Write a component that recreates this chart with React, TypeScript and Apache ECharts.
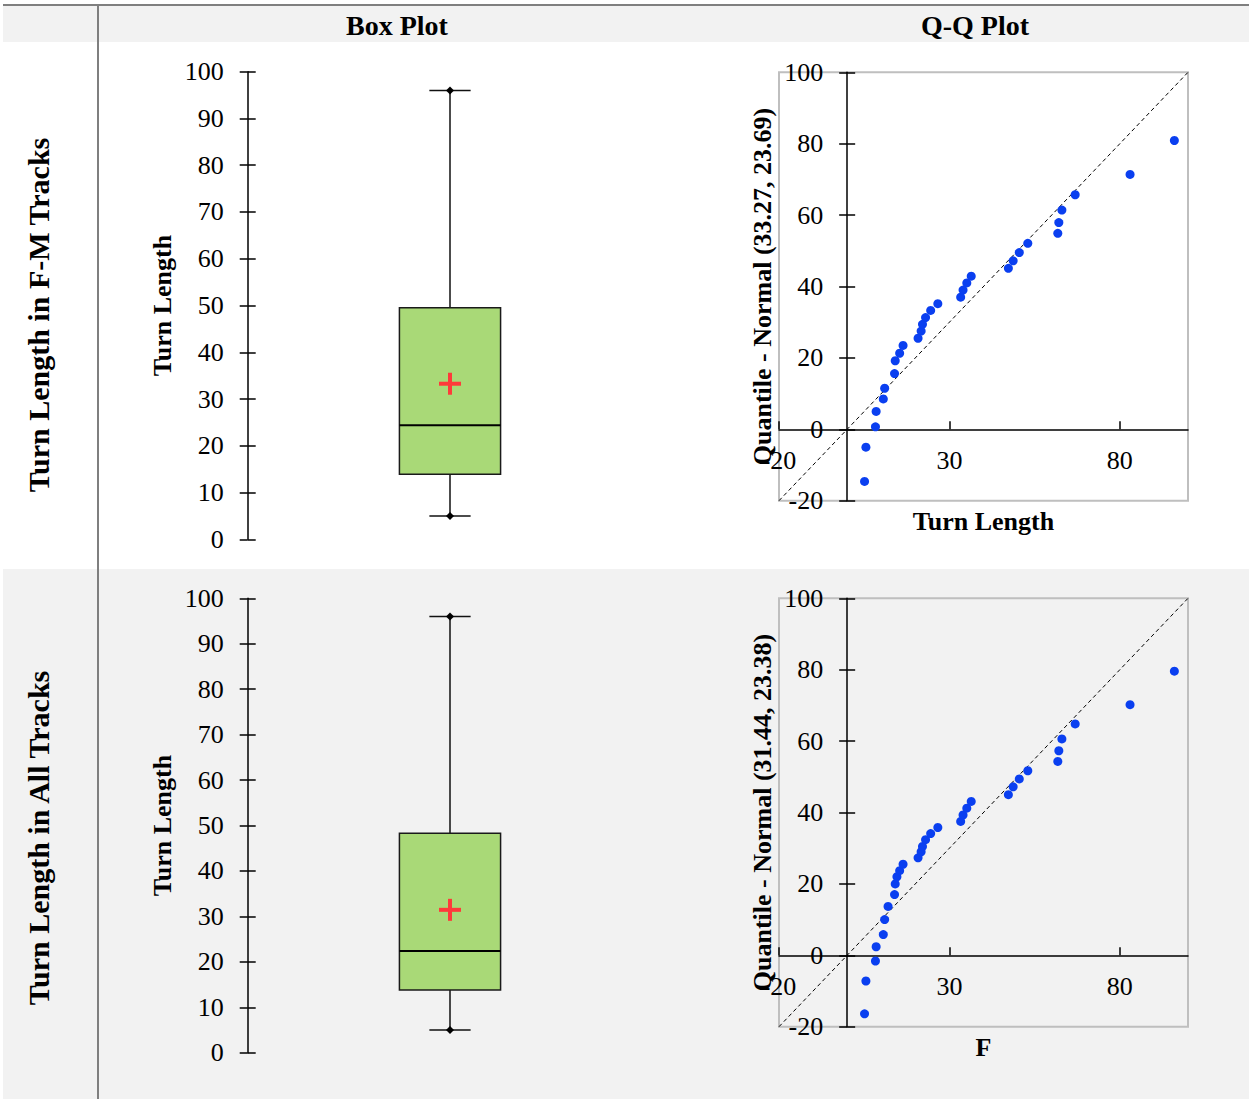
import React, { useEffect, useRef } from "react";
import * as echarts from "echarts";

const FONT = "'Liberation Serif', 'Times New Roman', Times, serif";

const columnHeaders = ["Box Plot", "Q-Q Plot"];
const rowLabels = ["Turn Length in F-M Tracks", "Turn Length in All Tracks"];
const boxYName = "Turn Length";
const qqXNames = ["Turn Length", "F"];

// box statistics: [min, q1, median, q3, max]
const boxFM = [5.0, 13.9, 24.4, 49.5, 96.0];
const boxAll = [5.0, 13.8, 22.4, 48.3, 96.0];
const meanFM = 33.27;
const meanAll = 31.44;
const sdFM = 23.69;
const sdAll = 23.38;

const boxYTicks = [0, 10, 20, 30, 40, 50, 60, 70, 80, 90, 100];
const qqXTicks = [-20, 30, 80];
const qqYTicks = [-20, 0, 20, 40, 60, 80, 100];
const qqRange = [-20, 100];

const qqFMx = [5.1, 5.5, 8.3, 8.5, 10.6, 11.0, 13.9, 14.1, 15.4, 16.4, 20.8, 21.7, 22.1, 23.0, 24.5, 26.6, 33.3, 34.0, 35.1, 36.4, 47.3, 48.7, 50.5, 53.0, 61.8, 62.1, 63.0, 66.9, 83.0, 96.0];
const qqFMy = [-14.6, -5.0, 0.7, 5.0, 8.5, 11.5, 15.6, 19.2, 21.3, 23.5, 25.5, 27.5, 29.4, 31.3, 33.3, 35.2, 37.0, 39.0, 41.0, 42.9, 45.1, 47.2, 49.5, 52.1, 54.9, 57.9, 61.4, 65.7, 71.4, 80.9];

const qqAllx = [5.1, 5.5, 8.3, 8.5, 10.6, 11.0, 12.0, 13.9, 14.1, 14.6, 15.4, 16.4, 20.8, 21.7, 22.1, 23.0, 24.5, 26.6, 33.3, 34.0, 35.1, 36.4, 47.3, 48.7, 50.5, 53.0, 61.8, 62.1, 63.0, 66.9, 83.0, 96.0];
const qqAlly = [-16.4, -7.2, -1.6, 2.4, 5.8, 10.0, 13.7, 17.0, 20.0, 22.0, 23.7, 25.5, 27.3, 29.0, 30.5, 32.4, 34.1, 35.8, 37.5, 39.3, 41.2, 43.1, 45.0, 47.2, 49.4, 51.7, 54.3, 57.3, 60.6, 64.8, 70.2, 79.6];

const BLUE = "#0a3ff0";
const GREEN = "#a9d977";
const RED = "#ff3a3a";
const GRAY_BG = "#f2f2f2";
const RULE = "#7f7f7f";

const QQ_W = 409;
const QQ_H = 428.4;
// distance of the zero value from the left / bottom edges of the Q-Q grids
const zeroFrac = (0 - qqRange[0]) / (qqRange[1] - qqRange[0]);

function renderBox(params: any, api: any) {
  const x = api.value(0);
  const pMin = api.coord([x, api.value(1)]);
  const pQ1 = api.coord([x, api.value(2)]);
  const pMed = api.coord([x, api.value(3)]);
  const pQ3 = api.coord([x, api.value(4)]);
  const pMax = api.coord([x, api.value(5)]);
  const pMean = api.coord([x, api.value(6)]);
  const cx = pMed[0];
  const band = api.size([1, 0])[0];
  const bw = band * 0.25;
  const cw = band * 0.102;
  const stroke = { stroke: "#111", lineWidth: 1.5, fill: null };
  const d = 4;
  const diamond = (y: number) => ({
    type: "polygon",
    shape: { points: [[cx, y - d], [cx + d, y], [cx, y + d], [cx - d, y]] },
    style: { fill: "#000" },
  });
  const c = 11;
  return {
    type: "group",
    children: [
      { type: "line", shape: { x1: cx, y1: pQ3[1], x2: cx, y2: pMax[1] }, style: stroke },
      { type: "line", shape: { x1: cx, y1: pQ1[1], x2: cx, y2: pMin[1] }, style: stroke },
      { type: "line", shape: { x1: cx - cw / 2, y1: pMax[1], x2: cx + cw / 2, y2: pMax[1] }, style: stroke },
      { type: "line", shape: { x1: cx - cw / 2, y1: pMin[1], x2: cx + cw / 2, y2: pMin[1] }, style: stroke },
      {
        type: "rect",
        shape: { x: cx - bw / 2, y: pQ3[1], width: bw, height: pQ1[1] - pQ3[1] },
        style: { fill: GREEN, stroke: "#1a1a1a", lineWidth: 1.5 },
      },
      { type: "line", shape: { x1: cx - bw / 2, y1: pMed[1], x2: cx + bw / 2, y2: pMed[1] }, style: { stroke: "#000", lineWidth: 2 } },
      diamond(pMax[1]),
      diamond(pMin[1]),
      { type: "line", shape: { x1: cx - c, y1: pMean[1], x2: cx + c, y2: pMean[1] }, style: { stroke: RED, lineWidth: 4 } },
      { type: "line", shape: { x1: cx, y1: pMean[1] - c, x2: cx, y2: pMean[1] + c }, style: { stroke: RED, lineWidth: 4 } },
    ],
  };
}

const labelStyle = { color: "#000", fontFamily: FONT, fontSize: 26 };
const nameStyle = { color: "#000", fontFamily: FONT, fontSize: 26, fontWeight: "bold" as const };

function boxYAxis(gridIndex: number, inner: boolean) {
  return {
    gridIndex,
    type: "value",
    position: "left",
    min: boxYTicks[0],
    max: boxYTicks[boxYTicks.length - 1],
    name: inner ? "" : boxYName,
    nameLocation: "middle",
    nameGap: 72,
    nameTextStyle: nameStyle,
    axisLine: { show: !inner, lineStyle: { color: "#000", width: 1.5 } },
    axisTick: { show: true, inside: inner, length: 8, customValues: boxYTicks, lineStyle: { color: "#000", width: 1.5 } },
    axisLabel: { show: !inner, customValues: boxYTicks, margin: 24, ...labelStyle },
    splitLine: { show: false },
  };
}

function qqYAxis(gridIndex: number, inner: boolean, sd: number, mean: number) {
  return {
    gridIndex,
    type: "value",
    position: "left",
    offset: -QQ_W * zeroFrac,
    min: qqRange[0],
    max: qqRange[1],
    name: inner ? "" : `Quantile - Normal (${mean.toFixed(2)}, ${sd.toFixed(2)})`,
    nameLocation: "middle",
    nameGap: 72,
    nameTextStyle: nameStyle,
    axisLine: { show: !inner, onZero: false, lineStyle: { color: "#000", width: 1.5 } },
    axisTick: { show: true, inside: inner, length: 8, customValues: qqYTicks, lineStyle: { color: "#000", width: 1.5 } },
    axisLabel: { show: !inner, customValues: qqYTicks, margin: 24, ...labelStyle },
    splitLine: { show: false },
    z: 3,
  };
}

function qqXAxis(gridIndex: number, name: string) {
  return {
    gridIndex,
    type: "value",
    position: "bottom",
    offset: -QQ_H * zeroFrac,
    min: qqRange[0],
    max: qqRange[1],
    name,
    nameLocation: "middle",
    nameGap: 79,
    nameTextStyle: nameStyle,
    axisLine: { show: true, onZero: false, lineStyle: { color: "#000", width: 1.5 } },
    axisTick: { show: true, inside: true, length: 8, customValues: qqXTicks, lineStyle: { color: "#000", width: 1.5 } },
    axisLabel: { show: true, customValues: qqXTicks, margin: 18, ...labelStyle },
    splitLine: { show: false },
    z: 3,
  };
}

export default function App() {
  const ref = useRef<HTMLDivElement>(null);
  useEffect(() => {
    document.body.style.margin = "0";
    document.body.style.overflow = "hidden";
    if (!ref.current) return;
    const chart = echarts.init(ref.current, null, { renderer: "svg" });
    const diag = [
      [qqRange[0], qqRange[0]],
      [qqRange[1], qqRange[1]],
    ];
    const option: any = {
      animation: false,
      backgroundColor: "#ffffff",
      textStyle: { fontFamily: FONT },
      grid: [
        { left: 247.7, top: 71.7, width: 404.6, height: 467.6 },
        { left: 247.7, top: 598.3, width: 404.6, height: 454.4 },
        { left: 779, top: 72.3, width: QQ_W, height: QQ_H, show: true, borderColor: "#bfbfbf", borderWidth: 2, backgroundColor: "transparent" },
        { left: 779, top: 598.3, width: QQ_W, height: QQ_H, show: true, borderColor: "#bfbfbf", borderWidth: 2, backgroundColor: "transparent" },
      ],
      xAxis: [
        { gridIndex: 0, type: "category", data: [rowLabels[0]], show: false },
        { gridIndex: 1, type: "category", data: [rowLabels[1]], show: false },
        qqXAxis(2, qqXNames[0]),
        qqXAxis(3, qqXNames[1]),
      ],
      yAxis: [
        boxYAxis(0, false),
        boxYAxis(0, true),
        boxYAxis(1, false),
        boxYAxis(1, true),
        qqYAxis(2, false, sdFM, meanFM),
        qqYAxis(2, true, sdFM, meanFM),
        qqYAxis(3, false, sdAll, meanAll),
        qqYAxis(3, true, sdAll, meanAll),
      ],
      series: [
        {
          type: "custom",
          xAxisIndex: 0,
          yAxisIndex: 0,
          renderItem: renderBox,
          encode: { x: 0, y: [1, 2, 3, 4, 5, 6] },
          data: [[0, ...boxFM, meanFM]],
          silent: true,
        },
        {
          type: "custom",
          xAxisIndex: 1,
          yAxisIndex: 2,
          renderItem: renderBox,
          encode: { x: 0, y: [1, 2, 3, 4, 5, 6] },
          data: [[0, ...boxAll, meanAll]],
          silent: true,
        },
        {
          type: "line",
          xAxisIndex: 2,
          yAxisIndex: 4,
          data: diag,
          symbol: "none",
          silent: true,
          lineStyle: { color: "#000", width: 1, type: [4, 3] },
          z: 2,
        },
        {
          type: "scatter",
          xAxisIndex: 2,
          yAxisIndex: 4,
          data: qqFMx.map((v, i) => [v, qqFMy[i]]),
          symbolSize: 9,
          itemStyle: { color: BLUE, opacity: 1 },
          z: 4,
        },
        {
          type: "line",
          xAxisIndex: 3,
          yAxisIndex: 6,
          data: diag,
          symbol: "none",
          silent: true,
          lineStyle: { color: "#000", width: 1, type: [4, 3] },
          z: 2,
        },
        {
          type: "scatter",
          xAxisIndex: 3,
          yAxisIndex: 6,
          data: qqAllx.map((v, i) => [v, qqAlly[i]]),
          symbolSize: 9,
          itemStyle: { color: BLUE, opacity: 1 },
          z: 4,
        },
      ],
      graphic: [
        { type: "rect", z: -10, silent: true, shape: { x: 3, y: 6, width: 1246, height: 36 }, style: { fill: GRAY_BG } },
        { type: "rect", z: -10, silent: true, shape: { x: 3, y: 569, width: 1246, height: 530 }, style: { fill: GRAY_BG } },
        { type: "line", z: 10, silent: true, shape: { x1: 3, y1: 5, x2: 1249, y2: 5 }, style: { stroke: RULE, lineWidth: 2 } },
        { type: "line", z: 10, silent: true, shape: { x1: 98, y1: 5, x2: 98, y2: 1099 }, style: { stroke: RULE, lineWidth: 2 } },
        {
          type: "text", z: 10, x: 397, y: 25,
          style: { text: columnHeaders[0], fontFamily: FONT, fontSize: 28, fontWeight: "bold", fill: "#000", align: "center", verticalAlign: "middle" },
        },
        {
          type: "text", z: 10, x: 975, y: 25,
          style: { text: columnHeaders[1], fontFamily: FONT, fontSize: 28, fontWeight: "bold", fill: "#000", align: "center", verticalAlign: "middle" },
        },
        {
          type: "text", z: 10, x: 38, y: 315, rotation: Math.PI / 2,
          style: { text: rowLabels[0], fontFamily: FONT, fontSize: 30, fontWeight: "bold", fill: "#000", align: "center", verticalAlign: "middle" },
        },
        {
          type: "text", z: 10, x: 38, y: 838, rotation: Math.PI / 2,
          style: { text: rowLabels[1], fontFamily: FONT, fontSize: 30, fontWeight: "bold", fill: "#000", align: "center", verticalAlign: "middle" },
        },
      ],
    };
    chart.setOption(option);
    return () => chart.dispose();
  }, []);
  return <div ref={ref} style={{ width: 1249, height: 1099 }} />;
}
